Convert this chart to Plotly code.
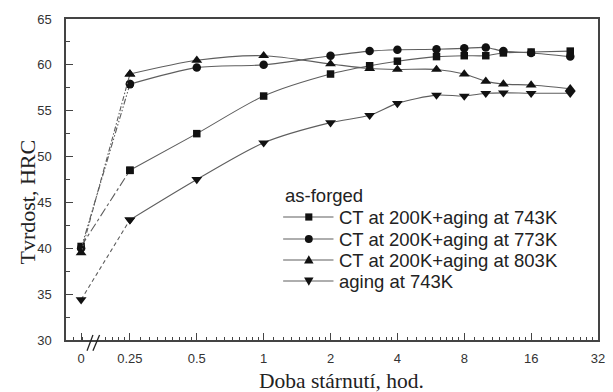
import math
import plotly.graph_objects as go

# ---------------- data ----------------
times = [0, 0.25, 0.5, 1, 2, 3, 4, 6, 8, 10, 12, 16, 24]
ct_743 = [40.2, 48.5, 52.5, 56.6, 59.0, 59.9, 60.4, 60.9, 61.0, 61.0, 61.3, 61.4, 61.5]
ct_773 = [40.0, 57.9, 59.7, 60.0, 61.0, 61.5, 61.65, 61.7, 61.8, 61.9, 61.5, 61.3, 60.9]
ct_803 = [39.5, 59.0, 60.5, 61.0, 60.1, 59.6, 59.5, 59.5, 59.0, 58.2, 57.9, 57.8, 57.4]
aging_743 = [34.4, 43.1, 47.5, 51.5, 53.7, 54.5, 55.8, 56.7, 56.6, 56.9, 56.95, 56.9, 56.9]

series_names = ["CT at 200K+aging at 743K", "CT at 200K+aging at 773K",
                "CT at 200K+aging at 803K", "aging at 743K"]
legend_title = "as-forged"
x_tick_vals = [0, 0.25, 0.5, 1, 2, 4, 8, 16, 32]
x_tick_text = ["0", "0.25", "0.5", "1", "2", "4", "8", "16", "32"]
y_tick_vals = [30, 35, 40, 45, 50, 55, 60, 65]

# ---------------- layout geometry ----------------
W, H = 613, 392
L, R, T, B = 66, 605, 19, 340
ZERO_POS = 0.25 * 2 ** -0.73          # where t=0 sits on the broken log2 axis
X_LEFT = 0.25 * 2 ** -0.956


def pos(t):
    return ZERO_POS if t == 0 else t


def px(x):
    return (x - L) / (R - L)


def py(y):
    return (B - y) / (B - T)


LINE_COLOR = "#5e5e5e"
MARK_COLOR = "#111111"
AXIS_COLOR = "#444444"
SANS = "Liberation Sans, Arial, sans-serif"
SERIF = "Liberation Serif, Times New Roman, serif"

styles = [
    dict(symbol="square", size=7.5, dash="dashdot"),
    dict(symbol="circle", size=8.5, dash="6px,2px,1.5px,2px,1.5px,2px"),
    dict(symbol="triangle-up", size=9.5, dash="5px,2px,1.5px,2px"),
    dict(symbol="triangle-down", size=9.5, dash="4px,3px"),
]
values = [ct_743, ct_773, ct_803, aging_743]

fig = go.Figure()
for name, vals, st in zip(series_names, values, styles):
    # as-forged -> first aging time: broken-style connector
    fig.add_trace(go.Scatter(
        x=[pos(t) for t in times[:2]], y=vals[:2], mode="lines+markers",
        line=dict(color=LINE_COLOR, width=1.1, dash=st["dash"]),
        marker=dict(symbol=st["symbol"], size=st["size"], color=MARK_COLOR),
        showlegend=False, hoverinfo="skip"))
    fig.add_trace(go.Scatter(
        x=[pos(t) for t in times[1:]], y=vals[1:], mode="lines+markers", name=name,
        line=dict(color=LINE_COLOR, width=1.1, shape="spline", smoothing=0.8),
        marker=dict(symbol=st["symbol"], size=st["size"], color=MARK_COLOR),
        showlegend=False))

# minor ticks on x (linear subdivisions of each doubling)
minor_vals = []
base = 0.125
while base < 32:
    for k in range(1, 9):
        v = base * (1 + k / 9)
        u = math.log2(v)
        if -2.70 < u < -2.40 or u < -2.95:
            continue
        minor_vals.append(v)
    base *= 2
minor_vals = [v for v in minor_vals if v < 32]

fig.update_xaxes(
    type="log", range=[math.log10(X_LEFT), math.log10(32)],
    tickmode="array", tickvals=[pos(t) for t in x_tick_vals], ticktext=x_tick_text,
    ticks="inside", ticklen=7, tickwidth=1, tickcolor=AXIS_COLOR,
    showline=True, linecolor=AXIS_COLOR, linewidth=1.5, mirror=True,
    showgrid=False, zeroline=False, ticklabelstandoff=6,
    tickfont=dict(family=SANS, size=13, color="#333333"),
    minor=dict(tickmode="array", tickvals=minor_vals, ticks="inside", ticklen=3.5,
               tickwidth=1, tickcolor=AXIS_COLOR, showgrid=False),
)
fig.update_yaxes(
    range=[30, 65], tickmode="array", tickvals=y_tick_vals,
    ticks="inside", ticklen=7, tickwidth=1, tickcolor=AXIS_COLOR,
    showline=True, linecolor=AXIS_COLOR, linewidth=1.5, mirror=True,
    showgrid=False, zeroline=False, ticklabelstandoff=10,
    tickfont=dict(family=SANS, size=13, color="#333333"),
    minor=dict(dtick=2.5, ticks="inside", ticklen=4, tickwidth=1,
               tickcolor=AXIS_COLOR, showgrid=False),
)

annotations = [
    dict(text="Tvrdost, HRC", textangle=-90, x=px(28), y=py(202), xref="paper", yref="paper",
         xanchor="center", yanchor="middle", showarrow=False,
         font=dict(family=SERIF, size=22, color="#222222")),
    dict(text="Doba stárnutí, hod.", x=px(345), y=py(381), xref="paper", yref="paper",
         xanchor="center", yanchor="middle", showarrow=False,
         font=dict(family=SERIF, size=21.5, color="#222222")),
    dict(text=legend_title, x=px(286), y=py(196), xref="paper", yref="paper",
         xanchor="left", yanchor="middle", showarrow=False,
         font=dict(family=SANS, size=18.5, color="#222222")),
]

shapes = []
# axis break marks
for x0, x1 in [(87.3, 93.3), (93.3, 100.0)]:
    shapes.append(dict(type="line", xref="paper", yref="paper",
                       x0=px(x0), x1=px(x1), y0=py(350.7), y1=py(335),
                       line=dict(color="#222222", width=1.3)))

# manual legend
row_y = [217, 239, 260, 281]
LX0, LX1, LM, LT = 286, 337, 312, 341
for name, st, yy in zip(series_names, styles, row_y):
    shapes.append(dict(type="line", xref="paper", yref="paper",
                       x0=px(LX0), x1=px(LX1), y0=py(yy), y1=py(yy),
                       line=dict(color=LINE_COLOR, width=1.1)))
    if st["symbol"] == "square":
        shapes.append(dict(type="rect", xref="paper", yref="paper",
                           x0=px(LM - 3.6), x1=px(LM + 3.6), y0=py(yy - 3.6), y1=py(yy + 3.6),
                           fillcolor=MARK_COLOR, line=dict(width=0)))
    elif st["symbol"] == "circle":
        shapes.append(dict(type="circle", xref="paper", yref="paper",
                           x0=px(LM - 4), x1=px(LM + 4), y0=py(yy - 4), y1=py(yy + 4),
                           fillcolor=MARK_COLOR, line=dict(width=0)))
    else:
        up = st["symbol"] == "triangle-up"
        a = 4.8
        if up:
            pts = [(LM - a, yy + a * 0.75), (LM + a, yy + a * 0.75), (LM, yy - a)]
        else:
            pts = [(LM - a, yy - a * 0.75), (LM + a, yy - a * 0.75), (LM, yy + a)]
        path = "M " + " L ".join(f"{px(p[0]):.5f},{py(p[1]):.5f}" for p in pts) + " Z"
        shapes.append(dict(type="path", xref="paper", yref="paper", path=path,
                           fillcolor=MARK_COLOR, line=dict(width=0)))
    annotations.append(dict(text=name, x=px(LT), y=py(yy), xref="paper", yref="paper",
                            xanchor="left", yanchor="middle", showarrow=False,
                            font=dict(family=SANS, size=18.5, color="#222222")))

fig.update_layout(
    width=W, height=H, autosize=False,
    margin=dict(l=L, r=W - R, t=T, b=H - B, pad=0),
    paper_bgcolor="white", plot_bgcolor="white",
    showlegend=False, annotations=annotations, shapes=shapes,
)

fig.write_html("out.html")
